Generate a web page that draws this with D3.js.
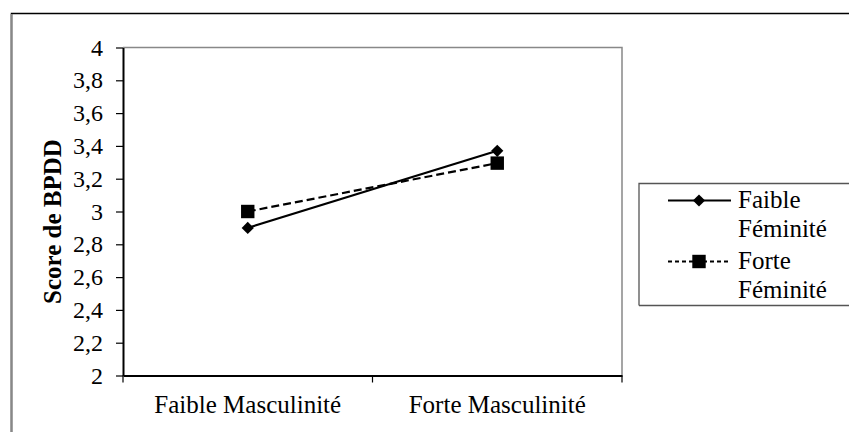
<!DOCTYPE html>
<html lang="fr">
<head>
<meta charset="UTF-8">
<title>Score de BPDD</title>
<script src="https://d3js.org/d3.v7.min.js"></script>
<style>
  body { margin: 0; background: #fff; }
  svg text { font-family: "Liberation Serif", "Times New Roman", serif; fill: #000; }
</style>
</head>
<body>
<svg id="chart" width="849" height="432"></svg>
<script>
// donnees du graphique
var categories = ["Faible Masculinité", "Forte Masculinité"];
var seriesNames = [["Faible", "Féminité"], ["Forte", "Féminité"]];
var faibleFeminite = [2.9, 3.37];
var forteFeminite = [3.0, 3.295];
var yTicks = [2, 2.2, 2.4, 2.6, 2.8, 3, 3.2, 3.4, 3.6, 3.8, 4];

var svg = d3.select("#chart");
var fs = 25;

// cadre exterieur
svg.append("path")
  .attr("d", "M11.5,440 V13.5 H860")
  .attr("fill", "none").attr("stroke", "#000").attr("stroke-width", 1.5);
svg.append("line")
  .attr("x1", 11.5).attr("x2", 11.5).attr("y1", 14).attr("y2", 440)
  .attr("stroke", "#888").attr("stroke-width", 2);

var plot = { left: 123, right: 622, top: 47.5, bottom: 375.5 };

var x = d3.scaleBand().domain(categories).range([plot.left, plot.right]);
var y = d3.scaleLinear().domain([2, 4]).range([plot.bottom, plot.top]);

// bords haut et droit de la zone de tracé
svg.append("path")
  .attr("d", "M" + plot.left + "," + plot.top + " H" + plot.right + " V" + plot.bottom)
  .attr("fill", "none").attr("stroke", "#888").attr("stroke-width", 1.5);

// axe Y
var yAxis = svg.append("g")
  .attr("transform", "translate(" + plot.left + ",0)")
  .call(d3.axisLeft(y).tickValues(yTicks).tickSize(7).tickSizeOuter(0)
    .tickFormat(function(d) { return String(d).replace(".", ","); }));
yAxis.attr("font-family", null).attr("font-size", null);
yAxis.select(".domain").attr("stroke", "#000").attr("stroke-width", 2);
yAxis.selectAll(".tick line").attr("stroke", "#000").attr("stroke-width", 1.2);
yAxis.selectAll(".tick text").attr("font-size", 24).attr("x", -20);

// axe X
var xAxis = svg.append("g")
  .attr("transform", "translate(0," + plot.bottom + ")")
  .call(d3.axisBottom(x).tickSize(0).tickSizeOuter(0));
xAxis.attr("font-family", null).attr("font-size", null);
xAxis.select(".domain").attr("stroke", "#000").attr("stroke-width", 2);
xAxis.selectAll(".tick text").attr("font-size", fs).attr("dy", 0).attr("y", 37);
// graduations entre categories
var xEdges = [plot.left].concat(categories.map(function(c) { return x(c) + x.bandwidth(); }));
svg.append("g").selectAll("line").data(xEdges).join("line")
  .attr("x1", function(d) { return d; }).attr("x2", function(d) { return d; })
  .attr("y1", plot.bottom).attr("y2", plot.bottom + 7)
  .attr("stroke", "#000").attr("stroke-width", 1.2);

// titre Y
svg.append("text")
  .attr("transform", "translate(61," + ((plot.top + plot.bottom) / 2 + 10) + ") rotate(-90)")
  .attr("text-anchor", "middle").attr("font-size", fs).attr("font-weight", "bold")
  .text("Score de BPDD");

var cx = function(i) { return x(categories[i]) + x.bandwidth() / 2; };
var line = d3.line().x(function(d, i) { return cx(i); }).y(function(d) { return y(d); });
var diamond = d3.symbol().type(d3.symbolDiamond2).size(95);
var square = d3.symbol().type(d3.symbolSquare).size(180);

var series = [
  { values: faibleFeminite, dash: null, sym: diamond },
  { values: forteFeminite, dash: "8,4", sym: square }
];

series.forEach(function(s) {
  svg.append("path").datum(s.values)
    .attr("d", line).attr("fill", "none").attr("stroke", "#000").attr("stroke-width", 2.2)
    .attr("stroke-dasharray", s.dash);
  svg.append("g").selectAll("path").data(s.values).join("path")
    .attr("transform", function(d, i) { return "translate(" + cx(i) + "," + y(d) + ")"; })
    .attr("d", s.sym).attr("fill", "#000");
});

// legende
var leg = svg.append("g").attr("transform", "translate(639,183.5)");
leg.append("path").attr("d", "M0,122 V0 H230")
  .attr("fill", "none").attr("stroke", "#555").attr("stroke-width", 1.3);
leg.append("line").attr("x1", 0).attr("x2", 230).attr("y1", 122).attr("y2", 122)
  .attr("stroke", "#555").attr("stroke-width", 1.3);

var rowY = [17, 78];
series.forEach(function(s, i) {
  var g = leg.append("g").attr("transform", "translate(0," + rowY[i] + ")");
  g.append("line").attr("x1", 29).attr("x2", 92).attr("y1", 0).attr("y2", 0)
    .attr("stroke", "#000").attr("stroke-width", 1.8).attr("stroke-dasharray", s.dash ? "4,3" : null);
  g.append("path").attr("transform", "translate(60,0)").attr("d", s.sym).attr("fill", "#000");
  g.append("text").attr("x", 99).attr("y", 7).attr("font-size", fs)
    .text(seriesNames[i][0]);
  g.append("text").attr("x", 99).attr("y", 36).attr("font-size", fs)
    .text(seriesNames[i][1]);
});
</script>
</body>
</html>
